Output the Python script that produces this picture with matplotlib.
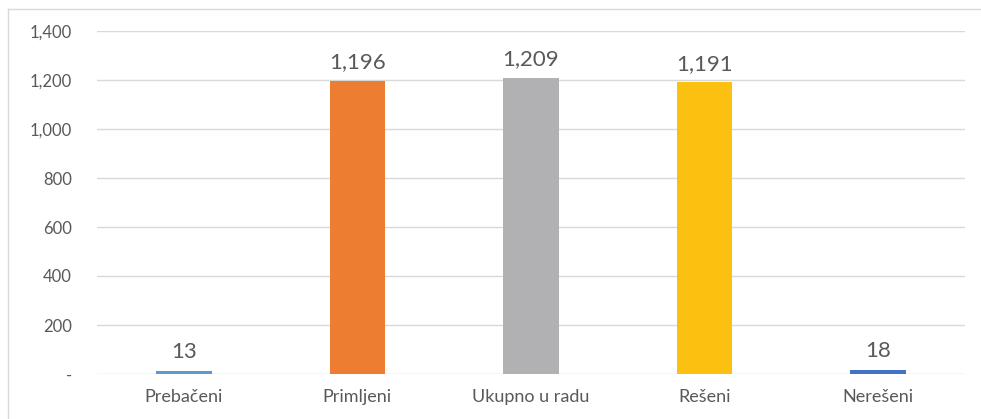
import matplotlib.pyplot as plt
from matplotlib.lines import Line2D
from matplotlib.ticker import FuncFormatter

categories = ["Prebačeni", "Primljeni", "Ukupno u radu", "Rešeni", "Nerešeni"]
values = [13, 1196, 1209, 1191, 18]
colors = ["#5B9BD5", "#ED7D31", "#B1B1B3", "#FCC010", "#4472C4"]

plt.rcParams['font.family'] = ['Lato', 'DejaVu Sans']
text_color = "#595959"

fig = plt.figure(figsize=(9.81, 4.19), dpi=100)
ax = fig.add_axes([97 / 981, 1 - 374 / 419, 868 / 981, 343 / 419])

x = range(len(categories))
bars = ax.bar(x, values, width=0.32, color=colors, zorder=3)
for i, v in enumerate(values):
    ax.text(i, v + 35, "{:,}".format(v), ha="center", va="bottom",
            fontsize=16, color=text_color)

ax.set_xlim(-0.5, len(categories) - 0.5)
ax.set_ylim(0, 1400)
ax.set_yticks(range(0, 1401, 200))
ax.yaxis.set_major_formatter(FuncFormatter(lambda v, p: "-" if v == 0 else "{:,.0f}".format(v)))
ax.set_xticks(list(x))
ax.set_xticklabels(categories)
ax.tick_params(axis="both", length=0, labelsize=12, colors=text_color)
ax.tick_params(axis="x", pad=11, labelsize=13)
ax.tick_params(axis="y", pad=18)
ax.grid(axis="y", color="#D9D9D9", linewidth=1, zorder=0)
for s in ax.spines.values():
    s.set_visible(False)

# outer chart border (top and left visible)
fig.add_artist(Line2D([8 / 981, 8 / 981], [0, 1 - 9 / 419], color="#D9D9D9", linewidth=1))
fig.add_artist(Line2D([8 / 981, 1], [1 - 9 / 419, 1 - 9 / 419], color="#D9D9D9", linewidth=1))

fig.savefig("out.png", dpi=100)
